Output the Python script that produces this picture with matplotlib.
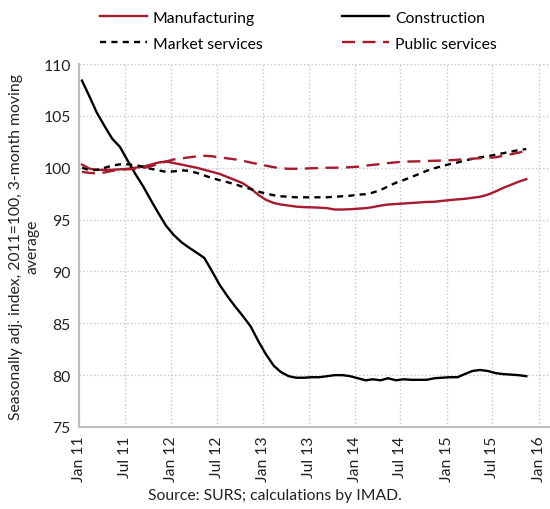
import matplotlib
matplotlib.use('Agg')
import matplotlib.pyplot as plt
import matplotlib.dates as mdates
import numpy as np
import pandas as pd

plt.rcParams['font.family'] = ['Lato', 'DejaVu Sans']

# monthly data, Jan 2011 - Nov 2015
months = pd.date_range('2011-01-01', periods=59, freq='MS') + pd.Timedelta(days=12)

manufacturing = [100.3, 99.9, 99.8, 99.8, 99.8, 99.85, 99.9, 100.0, 100.1, 100.3,
                 100.5, 100.6, 100.45, 100.3, 100.15, 100.0, 99.8, 99.6, 99.4, 99.1,
                 98.8, 98.5, 98.0, 97.4, 96.9, 96.6, 96.45, 96.35, 96.25, 96.2,
                 96.18, 96.15, 96.1, 95.97, 95.97, 96.0, 96.05, 96.1, 96.2, 96.35,
                 96.45, 96.5, 96.55, 96.6, 96.65, 96.7, 96.72, 96.8, 96.88, 96.95,
                 97.0, 97.1, 97.2, 97.4, 97.7, 98.05, 98.35, 98.65, 98.9]

construction = [108.4, 106.8, 105.3, 104.0, 102.8, 102.0, 100.7, 99.4, 98.2, 96.9,
                95.6, 94.4, 93.5, 92.8, 92.3, 91.8, 91.3, 90.0, 88.7, 87.6,
                86.6, 85.7, 84.7, 83.3, 82.0, 80.9, 80.3, 79.9, 79.75, 79.75,
                79.8, 79.8, 79.9, 80.0, 80.0, 79.9, 79.7, 79.5, 79.6, 79.5,
                79.7, 79.5, 79.6, 79.55, 79.55, 79.55, 79.7, 79.75, 79.8, 79.8,
                80.1, 80.4, 80.5, 80.4, 80.2, 80.1, 80.05, 80.0, 79.9]

market_services = [100.0, 99.75, 99.8, 100.0, 100.2, 100.33, 100.33, 100.25, 100.1, 99.9,
                   99.75, 99.6, 99.65, 99.75, 99.7, 99.5, 99.25, 99.0, 98.8, 98.6,
                   98.4, 98.15, 97.95, 97.7, 97.5, 97.35, 97.25, 97.2, 97.15, 97.15,
                   97.15, 97.15, 97.15, 97.2, 97.25, 97.3, 97.4, 97.45, 97.6, 97.85,
                   98.2, 98.55, 98.8, 99.1, 99.4, 99.7, 99.95, 100.15, 100.35, 100.5,
                   100.7, 100.85, 101.0, 101.1, 101.25, 101.4, 101.55, 101.7, 101.8]

public_services = [99.6, 99.5, 99.45, 99.55, 99.7, 99.8, 99.85, 99.9, 99.97, 100.15,
                   100.35, 100.6, 100.8, 100.9, 101.0, 101.1, 101.15, 101.1, 101.0, 100.9,
                   100.8, 100.67, 100.5, 100.35, 100.2, 100.05, 99.95, 99.9, 99.9, 99.92,
                   99.95, 99.97, 100.0, 100.0, 100.02, 100.05, 100.1, 100.2, 100.28, 100.35,
                   100.45, 100.52, 100.58, 100.6, 100.62, 100.65, 100.67, 100.7, 100.72, 100.77,
                   100.82, 100.87, 100.92, 100.97, 101.0, 101.15, 101.3, 101.45, 101.65]

red = '#a6192e'
fs = 11.3

fig = plt.figure(figsize=(5.5, 5.1), dpi=100)
ax = fig.add_axes([0.1436, 0.1608, 0.854, 0.7117])

l1, = ax.plot(months, manufacturing, color=red, lw=1.7, label='Manufacturing')
l2, = ax.plot(months, market_services, color='black', lw=1.7, dashes=(2.6, 2.2), label='Market services')
l3, = ax.plot(months, construction, color='black', lw=1.7, label='Construction')
l4, = ax.plot(months, public_services, color=red, lw=1.7, dashes=(5.5, 3.2), label='Public services')

ax.set_ylim(75, 110)
ax.set_yticks(np.arange(75, 111, 5))
ax.set_xlim(pd.Timestamp('2011-01-01'), pd.Timestamp('2016-02-10'))
ax.xaxis.set_major_locator(mdates.MonthLocator(bymonth=[1, 7]))
ax.xaxis.set_major_formatter(mdates.DateFormatter('%b %y'))
plt.setp(ax.get_xticklabels(), rotation=90)
ax.tick_params(length=0, labelsize=fs, colors='#222222', pad=6)

ax.grid(True, color='#c8c8c8', ls=':', lw=1)
for s in ['top', 'right']:
    ax.spines[s].set_visible(False)
for s in ['left', 'bottom']:
    ax.spines[s].set_color('#bdbdbd')
    ax.spines[s].set_linewidth(1.5)

ax.set_ylabel('Seasonally adj. index, 2011=100, 3-month moving\naverage', fontsize=fs, labelpad=3,
              color='#222222')

fig.legend(handles=[l1, l2, l3, l4], ncol=2, loc='upper left', bbox_to_anchor=(0.156, 1.005),
           frameon=False, fontsize=fs, handlelength=3.0, handletextpad=0.35,
           columnspacing=5.1, labelspacing=0.78)

fig.text(0.5, 0.02, 'Source: SURS; calculations by IMAD.', ha='center', fontsize=fs, color='#222222')

fig.savefig('out.png', dpi=100)
